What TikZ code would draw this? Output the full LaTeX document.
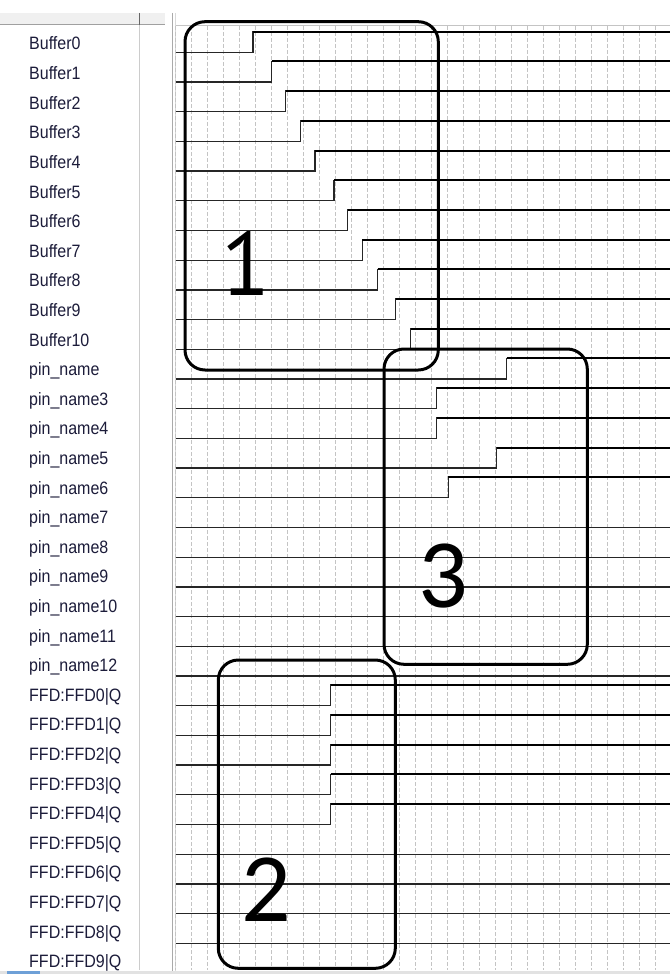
\documentclass[tikz,border=0pt]{standalone}
\usepackage{fontspec}
\setmainfont{Liberation Sans}
\newfontfamily\numfont{Carlito}
\newfontfamily\onefont{PT Sans}
\usepackage{graphicx}
\definecolor{lbl}{RGB}{28,28,58}
\definecolor{hdrbg}{RGB}{240,240,240}
\definecolor{hdrline}{RGB}{160,160,160}
\definecolor{gridc}{RGB}{196,196,196}
\definecolor{sepc}{RGB}{170,170,170}
\definecolor{scrollc}{RGB}{226,226,226}
\definecolor{thumbc}{RGB}{110,160,215}
\tikzset{
  lowline/.style={line width=1.3pt, black!85},
  highline/.style={line width=2pt, black},
  edgeline/.style={line width=1.3pt, black!85, line cap=rect},
  gridline/.style={line width=0.9pt, gridc, dash pattern=on 4pt off 2pt},
  grpbox/.style={line width=3pt, black, rounded corners=20pt},
  sig/.style={anchor=base west, inner sep=0pt, text=lbl, font=\fontsize{16}{16}\selectfont},
  bignum/.style={anchor=base, inner sep=0pt, font=\numfont\fontsize{98}{98}\selectfont},
  bigone/.style={anchor=base, inner sep=0pt, font=\onefont\fontsize{90}{90}\selectfont}
}
\newcommand{\sglabel}[1]{\scalebox{1}[1.12]{#1}}
\begin{document}
\begin{tikzpicture}[x=1pt,y=-1pt]
\useasboundingbox (0,0) rectangle (670,974);
\fill[white] (0,0) rectangle (670,974);
% header of the name column
\fill[hdrbg] (0,13) rectangle (165,25);
\draw[hdrline, line width=1pt] (0,25) -- (165,25);
\draw[black!60, line width=1pt] (139,13) -- (139,25);
\draw[black!20, line width=1pt] (139,25) -- (139,970);
% separator between columns
\draw[sepc, line width=1.6pt] (172.5,13) -- (172.5,974);
\draw[black!15, line width=0.8pt] (175.2,13) -- (175.2,974);
% grid area
\draw[gridc, line width=1pt] (176,25.5) -- (670,25.5);
\foreach \k in {0,...,30} {
  \draw[gridline] ({175.7+15.998*\k},26) -- ({175.7+15.998*\k},970);
}
% signal names
\foreach \n [count=\i from 0] in {Buffer0,Buffer1,Buffer2,Buffer3,Buffer4,Buffer5,Buffer6,Buffer7,Buffer8,Buffer9,Buffer10,pin\_name,pin\_name3,pin\_name4,pin\_name5,pin\_name6,pin\_name7,pin\_name8,pin\_name9,pin\_name10,pin\_name11,pin\_name12,FFD:FFD0|Q,FFD:FFD1|Q,FFD:FFD2|Q,FFD:FFD3|Q,FFD:FFD4|Q,FFD:FFD5|Q,FFD:FFD6|Q,FFD:FFD7|Q,FFD:FFD8|Q,FFD:FFD9|Q} {
  \node[sig] (name\i) at (29,{50+29.6*\i}) {\sglabel{\n}};
}
% waveforms with a rising edge: row / edge x
\foreach \r/\tx in {0/253,1/271.7,2/285.7,3/300.7,4/315,5/334,6/347.7,7/362.3,8/377.7,9/395.7,10/410.7,
                    11/506.7,12/436.7,13/436.7,14/496.7,15/448.3,
                    22/330.7,23/330.7,24/330.7,25/330.7,26/330.7} {
  \pgfmathsetmacro{\hy}{31.7+29.7*\r}
  \pgfmathsetmacro{\ly}{\hy+20.6}
  \draw[lowline] (175.5,\ly) -- (\tx,\ly);
  \draw[edgeline] (\tx,\ly) -- (\tx,\hy);
  \draw[highline] (\tx,\hy) -- (670,\hy);
}
% constant low waveforms
\foreach \r in {16,17,18,19,20,21,27,28,29,30,31} {
  \pgfmathsetmacro{\ly}{31.7+29.7*\r+20.6}
  \draw[lowline] (175.5,\ly) -- (670,\ly);
}
% group boxes
\draw[grpbox] (185,21.7) rectangle (438.3,370);
\draw[grpbox] (384,349) rectangle (587.3,664.3);
\draw[grpbox] (218.3,660) rectangle (395.3,968.3);
\node[bigone] (n1) at (246,295) {1};
\node[bignum] (n3) at (443,607) {3};
\node[bignum] (n2) at (266,921) {2};
% scroll bar strip
\fill[scrollc] (0,970.5) rectangle (670,974);
\fill[thumbc] (7,970.5) rectangle (40,974);
\end{tikzpicture}
\end{document}
